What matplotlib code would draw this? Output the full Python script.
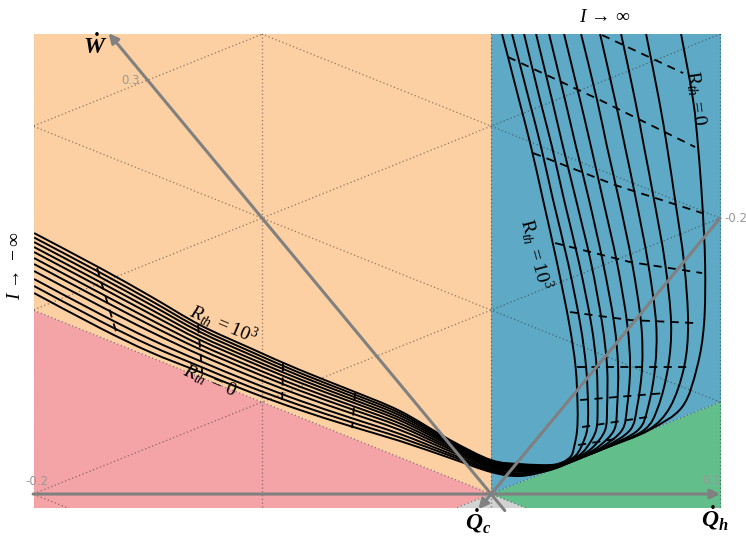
import numpy as np
import matplotlib
matplotlib.use("Agg")
import matplotlib.pyplot as plt
from matplotlib.patches import Polygon, PathPatch
from matplotlib.path import Path

plt.rcParams["mathtext.fontset"] = "custom"
plt.rcParams["mathtext.rm"] = "Liberation Serif"
plt.rcParams["mathtext.it"] = "Liberation Serif:italic"
plt.rcParams["mathtext.bf"] = "Liberation Serif:italic:bold"

# page directions of the three axes: Qh along x, W and Qc oblique
E_QH = np.array([1.0, 0.0])
E_W = np.array([-0.5, 0.6025])
E_QC = np.array([-0.5, -0.6025])
S = 0.6025 / 1.5  # slope of the W = 0 and Qc = 0 lines

# digitised values: reference image positions, calibrated on the Qh ticks
# (Qh = -0.2 at 34, Qh = 0.1 at 721, origin row at 494)
def cx(v):
    return (np.asarray(v, float) - 491) / 2290

def cy(v):
    return (494 - np.asarray(v, float)) / 2290

# I -> -inf arm, one column per R_th (first = 1e3 ... last = 0)
left_x = [34, 100, 150, 200, 250, 300, 350, 400, 450, 491, 520, 550]
left_y = np.array([
    [233, 237.5, 242, 247, 252, 258, 264, 271, 279, 286, 293],
    [268, 272.5, 277, 282, 287, 293, 299, 306, 314, 321, 328],
    [296, 300.2, 304.4, 309, 313.8, 319.4, 325, 331.4, 339, 345.4, 352],
    [325, 328.5, 332, 336, 339.9, 344.6, 349.3, 354.8, 361, 366.5, 372],
    [348, 351.3, 354.6, 358.3, 361.9, 366.3, 370.7, 375.9, 381.7, 386.9, 392],
    [370, 373, 376, 379.3, 382.7, 386.7, 390.7, 395.3, 400.7, 405.3, 410],
    [390, 392.7, 395.4, 398.4, 401.4, 405, 408.6, 412.8, 417.6, 421.8, 426],
    [411, 413.2, 415.5, 418, 420.5, 423.5, 426.5, 430, 434, 437.5, 441],
    [440, 441.3, 442.6, 444, 445.5, 447.3, 449.1, 451.2, 453.6, 455.7, 458],
    [460, 460.9, 461.8, 462.8, 463.8, 465, 466.2, 467.6, 469.2, 470.6, 472],
    [464, 464.9, 465.8, 466.8, 467.8, 469, 470.2, 471.6, 473.2, 474.6, 476],
    [465, 465.5, 466, 466.5, 467, 467.5, 468, 468.5, 469, 469.5, 470],
]).T

# I -> +inf arm, one column per R_th
right_y = [462, 456, 447, 430, 407, 367, 323, 263, 200, 147, 100, 34]
right_x = np.array([
    [563, 564, 565, 566, 567, 568, 569, 569.5, 570, 570.5, 571],
    [571, 575, 578, 580, 582, 583, 584, 584.5, 585, 585.3, 585.6],
    [574, 581, 587, 593, 598, 602, 605, 606.5, 607.3, 607.7, 608],
    [577, 587, 596, 605, 614, 622, 630, 638, 644, 648, 649],
    [577.5, 588, 597.5, 607, 617, 627, 637, 648, 658, 670, 682],
    [575.5, 586, 596.5, 607, 618, 630, 642, 655, 668, 684, 697],
    [569, 580, 591, 602, 614, 627, 641, 656, 671, 688, 704],
    [557, 568, 579, 591, 603, 617, 632, 648, 665, 684, 705],
    [543, 553, 564, 576, 589, 603, 619, 636, 654, 675, 702],
    [531, 541, 552, 563, 576, 591, 607, 625, 644, 667, 698],
    [519, 529, 540, 552, 565, 580, 597, 615, 635, 659, 693],
    [502, 512, 524, 536, 549, 564, 581, 600, 621, 646, 681],
]).T

# constant-current lines
dash_right = [
    [(602, 35), (683, 73)],
    [(508, 57), (600, 100), (695, 147)],
    [(533, 153), (615, 185), (702, 213)],
    [(555, 243), (630, 262), (702, 273)],
    [(570, 312), (630, 320), (695, 323)],
    [(577, 367), (687, 367)],
    [(580, 400), (665, 393)],
    [(582, 427), (647, 417)],
    [(578, 445), (615, 439)],
]
dash_left = [
    [(97, 268), (117, 335)],
    [(198, 325), (202, 372)],
    [(283, 363), (282, 404)],
    [(355, 393), (352, 428)],
]


def smooth_path(x, y):
    p = np.column_stack([x, y])
    ext = np.vstack([p[0], p, p[-1]])
    verts = [p[0]]
    codes = [Path.MOVETO]
    for i in range(len(p) - 1):
        c1 = ext[i + 1] + (ext[i + 2] - ext[i]) / 6
        c2 = ext[i + 2] - (ext[i + 3] - ext[i + 1]) / 6
        verts += [c1, c2, p[i + 1]]
        codes += [Path.CURVE4] * 3
    return Path(verts, codes)


fig = plt.figure(figsize=(7.46, 5.36), dpi=100)
ax = fig.add_axes([34 / 746, 1 - 508 / 536, 687 / 746, 474 / 536])
ax.set_xlim(-0.1996, 0.1004)
ax.set_ylim(-0.0061, 0.2009)
ax.set_axis_off()

BIG = 1.0
regions = [
    ([(0, 0), (-BIG, S * BIG), (-BIG, BIG), (0, BIG)], "#fcd0a2"),
    ([(0, 0), (-BIG, S * BIG), (-BIG, -S * BIG)], "#f4a4a6"),
    ([(0, 0), (-BIG, -S * BIG), (-BIG, -BIG), (BIG, -BIG), (BIG, -S * BIG)], "#d2d2d2"),
    ([(0, 0), (BIG, -S * BIG), (BIG, S * BIG)], "#62be8a"),
    ([(0, 0), (BIG, S * BIG), (BIG, BIG), (0, BIG)], "#5ea9c5"),
]
for verts, col in regions:
    ax.add_patch(Polygon(verts, closed=True, facecolor=col, edgecolor="none", zorder=0))

grid_x = [-0.2, -0.1, 0.0, 0.1]
grid_diag = [-0.8, -0.6, -0.4, -0.2, 0.0, 0.2, 0.4, 0.6]
gkw = dict(color="#303030", lw=0.9, ls=(0, (1, 2)), alpha=0.55, zorder=1)
for gx in grid_x:
    ax.plot([gx, gx], [-1, 1], **gkw)
xx = np.array([-1.0, 1.0])
for x0 in grid_diag:
    ax.plot(xx, S * (xx - x0), **gkw)
    ax.plot(xx, -S * (xx - x0), **gkw)

for k in range(11):
    xs = np.concatenate([left_x, right_x[k]])
    ys = np.concatenate([left_y[k], right_y])
    ax.add_patch(PathPatch(smooth_path(cx(xs), cy(ys)), facecolor="none",
                           edgecolor="k", lw=1.4, zorder=3))
for d in dash_right + dash_left:
    d = np.array(d, float)
    ax.plot(cx(d[:, 0]), cy(d[:, 1]), color="k", lw=1.3, ls=(0, (4.5, 3.5)), zorder=3)

akw = dict(arrowstyle="-|>", color="#808080", lw=2.2, mutation_scale=14, shrinkA=0, shrinkB=0)
ax.annotate("", xy=0.1 * E_QH, xytext=-0.2 * E_QH, arrowprops=akw, zorder=4, annotation_clip=False)
ax.annotate("", xy=0.334 * E_W, xytext=-0.012 * E_W, arrowprops=akw, zorder=4, annotation_clip=False)
ax.annotate("", xy=0.011 * E_QC, xytext=-0.2 * E_QC, arrowprops=akw, zorder=4, annotation_clip=False)

tkw = dict(color="#999999", fontsize=8.5, textcoords="offset points", zorder=5, annotation_clip=False)
ax.annotate("0.3", xy=0.3 * E_W, xytext=(-6, 0), ha="right", va="center", **tkw)
ax.annotate("-0.2", xy=-0.2 * E_QC, xytext=(3, 0), ha="left", va="center", **tkw)
ax.annotate("0.1", xy=0.1 * E_QH, xytext=(-6, 10), ha="center", va="center", **tkw)
ax.annotate("-0.2", xy=-0.2 * E_QH, xytext=(3, 9), ha="center", va="center", **tkw)

lkw = dict(fontsize=17, textcoords="offset points", annotation_clip=False, zorder=6)
ax.annotate(r"$\mathbf{\dot{W}}$", xy=0.334 * E_W, xytext=(-10, -9), ha="center", va="center", **lkw)
ax.annotate(r"$\mathbf{\dot{Q}_h}$", xy=0.1 * E_QH, xytext=(-4, -17), ha="center", va="center", **lkw)
ax.annotate(r"$\mathbf{\dot{Q}_c}$", xy=(0, 0), xytext=(-9, -19), ha="center", va="center", **lkw)

fig.text(605 / 746, 1 - 17 / 536, r"$I\,\rightarrow\,\infty$", fontsize=14, ha="center", va="center")
fig.text(15 / 746, 1 - 266 / 536, r"$I\,\rightarrow\,-\infty$", fontsize=14, ha="center", va="center", rotation=90)

rkw = dict(fontsize=14, ha="center", va="center", zorder=6)
ax.text(cx(696), cy(98), r"$\mathrm{R}_{th}\;=0$", rotation=-82, **rkw)
ax.text(cx(536), cy(254), r"$\mathrm{R}_{th}\;=10^3$", rotation=-75, **rkw)
ax.text(cx(224), cy(324), r"$R_{th}\;=10^3$", rotation=-23, **rkw)
ax.text(cx(210), cy(381), r"$R_{th}\;=\,0$", rotation=-23, **rkw)

fig.savefig("out.png", dpi=100)
